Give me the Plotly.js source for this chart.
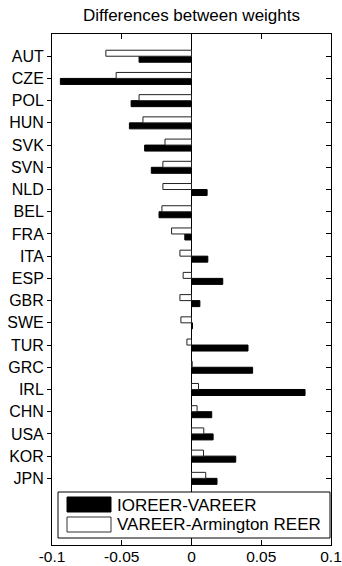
<!DOCTYPE html>
<html>
<head>
<meta charset="utf-8">
<script src="https://cdn.plot.ly/plotly-3.0.1.min.js"></script>
<style>html,body{margin:0;padding:0;background:#fff;}#chart{width:342px;height:566px;}</style>
</head>
<body>
<div id="chart"></div>
<script>
var countries = ["AUT","CZE","POL","HUN","SVK","SVN","NLD","BEL","FRA","ITA","ESP","GBR","SWE","TUR","GRC","IRL","CHN","USA","KOR","JPN"];
var ioreerMinusVareer = [-0.0376,-0.094,-0.0433,-0.0445,-0.0336,-0.0288,0.0112,-0.0233,-0.0048,0.0117,0.0224,0.006,0.0007,0.0405,0.0438,0.0814,0.0145,0.0155,0.0317,0.0183];
var vareerMinusArmington = [-0.0614,-0.054,-0.0376,-0.0348,-0.019,-0.0205,-0.0205,-0.0212,-0.0143,-0.0083,-0.006,-0.0083,-0.0076,-0.0033,0.0005,0.005,0.004,0.0088,0.0086,0.0102];
var seriesNames = ["IOREER-VAREER","VAREER-Armington REER"];
var xTickVals = [-0.1,-0.05,0,0.05,0.1];
var xTickText = ["-0.1","-0.05","0","0.05","0.1"];

var font = "Liberation Sans, Arial, Helvetica, sans-serif";
var traces = [
  {type:"bar", orientation:"h", name:seriesNames[0], y:countries, x:ioreerMinusVareer,
   width:0.27, offset:0, marker:{color:"#000", line:{color:"#000", width:1}}, showlegend:false, hoverinfo:"x+y"},
  {type:"bar", orientation:"h", name:seriesNames[1], y:countries, x:vareerMinusArmington,
   width:0.27, offset:-0.27, marker:{color:"#fff", line:{color:"#222", width:1}}, showlegend:false, hoverinfo:"x+y"},
  {type:"scatter", mode:"markers", y:countries, x:countries.map(function(){return null;}), yaxis:"y2", showlegend:false, hoverinfo:"skip"}
];
var yr = [22, -1];
var layout = {
  width:342, height:566,
  margin:{l:52, r:11, t:34, b:21},
  paper_bgcolor:"#fff", plot_bgcolor:"#fff",
  font:{family:font, size:16, color:"#000"},
  title:{text:"Differences between weights", font:{family:font, size:17, color:"#000"}, x:0.5, xref:"paper", xanchor:"center", y:1-15/566, yref:"container", yanchor:"middle"},
  xaxis:{range:[-0.1,0.1], tickvals:xTickVals, ticktext:xTickText, ticks:"inside", ticklen:5, tickcolor:"#000",
         showline:true, linecolor:"#000", linewidth:1, mirror:"ticks", showgrid:false, ticklabeloverflow:"allow",
         ticklabelstandoff:-3,
         zeroline:true, zerolinecolor:"#000", zerolinewidth:1, tickfont:{size:15.5}},
  yaxis:{type:"category", categoryorder:"array", categoryarray:countries, range:yr, ticks:"outside", ticklen:4, tickcolor:"#000",
         showline:true, linecolor:"#000", linewidth:1, mirror:true, showgrid:false, zeroline:false, tickfont:{size:16}},
  yaxis2:{type:"category", categoryorder:"array", categoryarray:countries, range:yr, overlaying:"y", side:"right",
          ticks:"inside", ticklen:5, tickcolor:"#000", showticklabels:false, showline:false, showgrid:false, zeroline:false},
  bargap:0, barmode:"overlay",
  shapes:[
    {type:"rect", xref:"paper", yref:"paper", x0:(58-52)/279, x1:(330-52)/279, y0:(545-538)/511, y1:(545-492)/511,
     fillcolor:"#fff", line:{color:"#000", width:1}, layer:"above"},
    {type:"rect", xref:"paper", yref:"paper", x0:(67-52)/279, x1:(111-52)/279, y0:(545-512)/511, y1:(545-497)/511,
     fillcolor:"#000", line:{color:"#000", width:1}, layer:"above"},
    {type:"rect", xref:"paper", yref:"paper", x0:(67-52)/279, x1:(111-52)/279, y0:(545-532)/511, y1:(545-517)/511,
     fillcolor:"#fff", line:{color:"#333", width:1}, layer:"above"}
  ],
  annotations:[
    {xref:"paper", yref:"paper", x:(115-52)/279, y:(545-505)/511, xanchor:"left", yanchor:"middle", text:seriesNames[0], showarrow:false, font:{family:font, size:17, color:"#000"}},
    {xref:"paper", yref:"paper", x:(115-52)/279, y:(545-524)/511, xanchor:"left", yanchor:"middle", text:seriesNames[1], showarrow:false, font:{family:font, size:17, color:"#000"}}
  ]
};
Plotly.newPlot("chart", traces, layout, {staticPlot:true, displayModeBar:false});
</script>
</body>
</html>
